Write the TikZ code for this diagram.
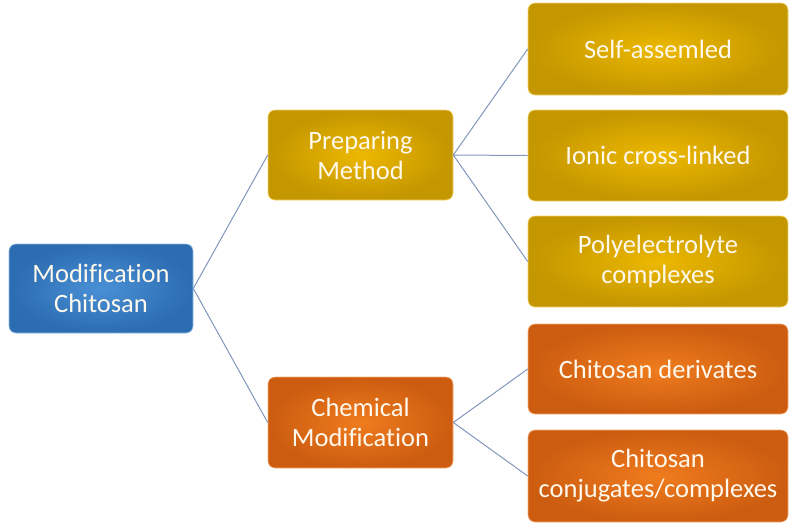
\documentclass[tikz,border=0pt]{standalone}
\usepackage{fontspec}
\setmainfont[Ligatures=NoCommon]{Carlito}
\definecolor{blueC}{HTML}{4A90D6}
\definecolor{blueE}{HTML}{2C6CB0}
\definecolor{goldC}{HTML}{ECB800}
\definecolor{goldE}{HTML}{C49600}
\definecolor{orC}{HTML}{F07C1E}
\definecolor{orE}{HTML}{CC5C10}
\definecolor{lineC}{HTML}{8196BC}
\definecolor{txt}{HTML}{FFF8EC}
\tikzset{
  box/.style={rounded corners=7pt, align=center, text=txt,
    font=\fontsize{26.5}{30}\selectfont, inner sep=0pt},
  bluebox/.style={box, inner color=blueC, outer color=blueE, draw=blueC!60!white, line width=0.6pt},
  goldbox/.style={box, inner color=goldC, outer color=goldE, draw=goldC!60!white, line width=0.6pt},
  orbox/.style={box, inner color=orC, outer color=orE, draw=orC!60!white, line width=0.6pt},
  conn/.style={draw=lineC, line width=1pt}
}
\begin{document}
\begin{tikzpicture}[x=1pt,y=-1pt]
\useasboundingbox (0,0) rectangle (796,531);
% root
\node[bluebox, minimum width=184pt, minimum height=89pt] (root) at (101,288.5) {Modification\\Chitosan};
\node[goldbox, minimum width=185pt, minimum height=90pt] (prep) at (360.5,155) {Preparing\\Method};
\node[orbox, minimum width=185pt, minimum height=91pt] (chem) at (360.5,422.5) {Chemical\\Modification};
\node[goldbox, minimum width=260pt, minimum height=92pt] (self) at (658,49) {Self-assemled};
\node[goldbox, minimum width=260pt, minimum height=91pt] (ionic) at (658,155.5) {Ionic cross-linked};
\node[goldbox, minimum width=260pt, minimum height=91pt] (poly) at (658,261.5) {Polyelectrolyte\\complexes};
\node[orbox, minimum width=260pt, minimum height=90pt] (deriv) at (658,369) {Chitosan derivates};
\node[orbox, minimum width=260pt, minimum height=92pt] (conj) at (658,476) {Chitosan\\conjugates/complexes};
\draw[conn] (root.east) -- (prep.west);
\draw[conn] (root.east) -- (chem.west);
\draw[conn] (prep.east) -- (self.west);
\draw[conn] (prep.east) -- (ionic.west);
\draw[conn] (prep.east) -- (poly.west);
\draw[conn] (chem.east) -- (deriv.west);
\draw[conn] (chem.east) -- (conj.west);
\end{tikzpicture}
\end{document}
